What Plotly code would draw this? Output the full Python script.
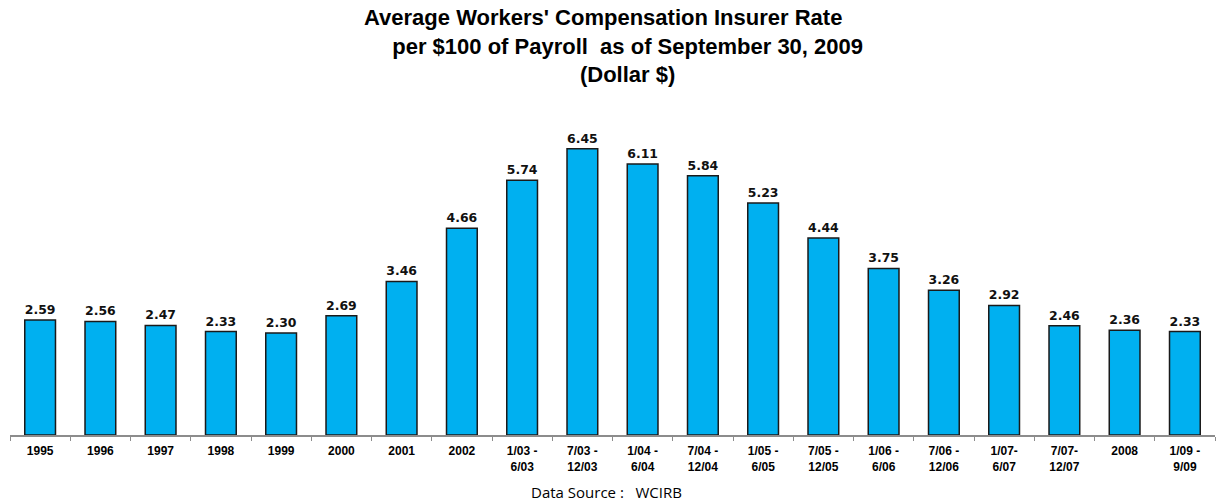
"""Average workers' compensation insurer rate bar chart."""

import plotly.graph_objects as go

periods = [
    "1995", "1996", "1997", "1998", "1999", "2000", "2001", "2002",
    "1/03 -<br>6/03", "7/03 -<br>12/03", "1/04 -<br>6/04", "7/04 -<br>12/04",
    "1/05 -<br>6/05", "7/05 -<br>12/05", "1/06 -<br>6/06", "7/06 -<br>12/06",
    "1/07-<br>6/07", "7/07-<br>12/07", "2008", "1/09 -<br>9/09",
]
rates = [
    2.59, 2.56, 2.47, 2.33, 2.30, 2.69, 3.46, 4.66, 5.74, 6.45,
    6.11, 5.84, 5.23, 4.44, 3.75, 3.26, 2.92, 2.46, 2.36, 2.33,
]
title_lines = [
    "Average Workers' Compensation Insurer Rate" + "&nbsp;" * 8,
    "per $100 of Payroll&nbsp; as of September 30, 2009",
    "(Dollar $)",
]
source_note = "Data Source :&nbsp;&nbsp; WCIRB"

fig = go.Figure(
    go.Bar(
        x=periods,
        y=rates,
        text=[f"{v:.2f}" for v in rates],
        textposition="outside",
        textfont=dict(family="DejaVu Sans", size=16, color="#111111", weight="bold"),
        cliponaxis=False,
        marker=dict(color="#00B0F0", line=dict(color="#1a1a1a", width=1.5)),
        width=0.51,
    )
)

fig.update_layout(
    width=1219,
    height=504,
    margin=dict(l=10, r=4, t=100, b=69),
    plot_bgcolor="#ffffff",
    paper_bgcolor="#ffffff",
    showlegend=False,
    font=dict(family="Liberation Sans, Arial, sans-serif", color="#000000"),
)

fig.update_xaxes(
    showline=True,
    linecolor="#8c8c8c",
    linewidth=1.5,
    ticks="outside",
    tickson="boundaries",
    ticklen=4,
    tickcolor="#8c8c8c",
    ticklabelstandoff=4,
    tickfont=dict(family="Liberation Sans", size=12, color="#000000", weight="bold"),
    showgrid=False,
)
fig.update_yaxes(range=[0, 7.55], visible=False, showgrid=False)

# three-line title as one text block
fig.add_annotation(
    text="<b>" + "<br>".join(title_lines) + "</b>",
    xref="paper",
    yref="paper",
    x=(627 - 10) / 1205,
    y=(435 - 46) / 335,
    xanchor="center",
    yanchor="middle",
    align="center",
    showarrow=False,
    font=dict(family="Liberation Sans", size=22, color="#000000"),
)

fig.add_annotation(
    text=source_note,
    xref="paper",
    yref="paper",
    x=(606 - 10) / 1205,
    y=(435 - 492) / 335,
    xanchor="center",
    yanchor="middle",
    showarrow=False,
    font=dict(family="Open Sans", size=15, color="#000000"),
)

# drop the default page margin so the figure sits at the window corner
fig.write_html(
    "out.html",
    config={"displayModeBar": False},
    post_script="document.body.style.margin='0';",
)
